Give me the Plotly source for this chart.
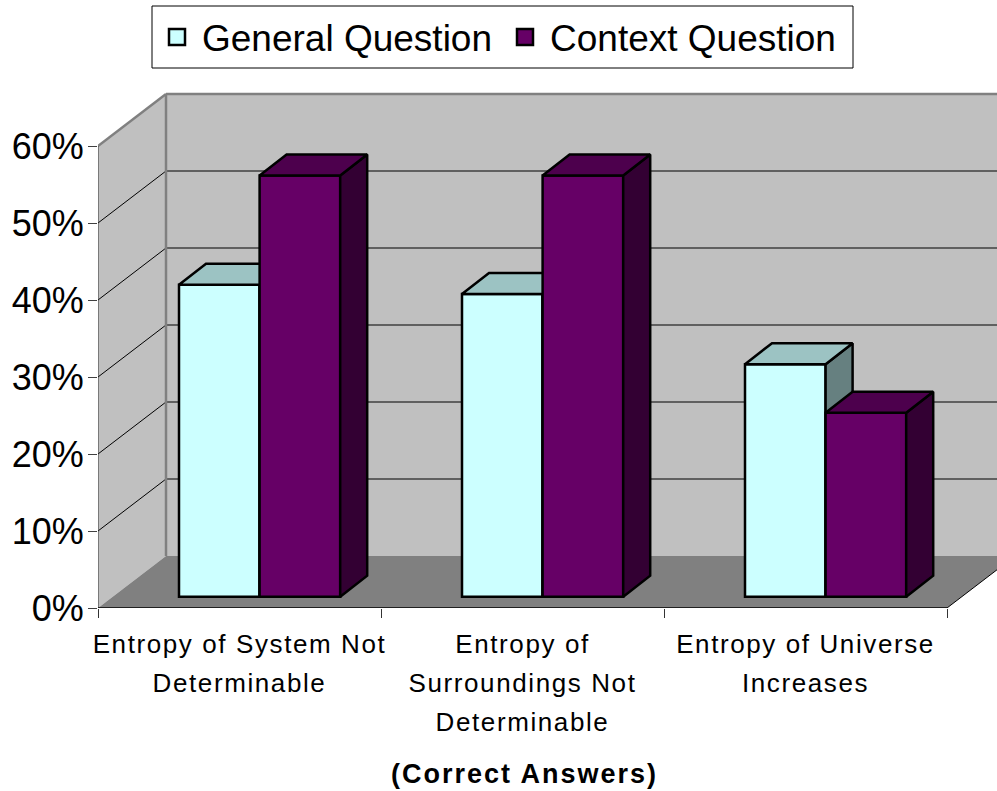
import plotly.graph_objects as go

# ---- data ----
categories = ["Entropy of System Not<br>Determinable",
              "Entropy of<br>Surroundings Not<br>Determinable",
              "Entropy of Universe<br>Increases"]
general_question = [40.5, 39.3, 30.2]
context_question = [54.7, 54.7, 23.9]
y_ticks = [0, 10, 20, 30, 40, 50, 60]
y_tick_labels = ["0%", "10%", "20%", "30%", "40%", "50%", "60%"]
axis_title = "(Correct Answers)"

# ---- drawing geometry (scale factors) ----
PLOT_L, PLOT_R, PLOT_T, PLOT_B = 98, 997, 90, 608
PX_PER_CAT, PX_PER_PCT = 283.0, 7.7
XMAX = (PLOT_R - PLOT_L) / PX_PER_CAT
YMAX = (PLOT_B - PLOT_T) / PX_PER_PCT
WALL_DX, WALL_DY = 68 / PX_PER_CAT, 52 / PX_PER_PCT
BAR_DX, BAR_DY = 27 / PX_PER_CAT, 21 / PX_PER_PCT
BAR_BASE = 11.3 / PX_PER_PCT
BAR_W = 80.6 / PX_PER_CAT
BAR_START = 81 / PX_PER_CAT
N = len(categories)
W_PLOT, H_PLOT = PLOT_R - PLOT_L, PLOT_B - PLOT_T


def poly(pts, **kw):
    path = "M" + "L".join(f"{x},{y}" for x, y in pts) + "Z"
    return dict(type="path", path=path, layer="below", **kw)


def seg(x0, y0, x1, y1, color="#000000", width=1):
    return dict(type="line", x0=x0, y0=y0, x1=x1, y1=y1, layer="below",
                line=dict(color=color, width=width))


shapes = [
    dict(type="rect", xref="paper", yref="paper", layer="below",
         x0=(152 - PLOT_L) / W_PLOT, x1=(853 - PLOT_L) / W_PLOT,
         y0=1 + (PLOT_T - 68) / H_PLOT, y1=1 + (PLOT_T - 6) / H_PLOT,
         fillcolor="white", line=dict(color="#000000", width=1)),
    poly([(0, 0), (WALL_DX, WALL_DY), (WALL_DX, 60 + WALL_DY), (0, 60)],
         fillcolor="#C0C0C0", line=dict(width=0)),
    poly([(WALL_DX, WALL_DY), (N + WALL_DX, WALL_DY), (N + WALL_DX, 60 + WALL_DY), (WALL_DX, 60 + WALL_DY)],
         fillcolor="#C0C0C0", line=dict(width=0)),
    poly([(0, 0), (N, 0), (N + WALL_DX, WALL_DY), (WALL_DX, WALL_DY)],
         fillcolor="#808080", line=dict(width=0)),
]
for t in y_ticks[1:-1]:
    shapes.append(seg(0, t, WALL_DX, t + WALL_DY, "#000000", 1))
    shapes.append(seg(WALL_DX, t + WALL_DY, N + WALL_DX, t + WALL_DY, "#000000", 1))
shapes += [
    seg(0, 60, WALL_DX, 60 + WALL_DY, "#808080", 2.5),
    seg(WALL_DX, 60 + WALL_DY, N + WALL_DX, 60 + WALL_DY, "#808080", 2.5),
    seg(WALL_DX, WALL_DY, WALL_DX, 60 + WALL_DY, "#808080", 2.5),
    seg(0, 0, 0, 60, "#333333", 1),
    seg(0, 0, N, 0, "#000000", 1.5),
    seg(N, 0, N + WALL_DX, WALL_DY, "#000000", 1),
]

fig = go.Figure()


def add_series(name, values, start, front, top, side, xa, ya):
    xs = [i + start + BAR_W / 2 for i in range(N)]
    fig.add_trace(go.Bar(x=xs, y=values, base=[BAR_BASE] * N, width=BAR_W, name=name,
                         marker=dict(color=front, line=dict(color="#000000", width=2.5)),
                         showlegend=False, xaxis=xa, yaxis=ya, hoverinfo="skip"))
    for i, v in enumerate(values):
        l, r = i + start, i + start + BAR_W
        h = BAR_BASE + v
        fx = [l, r, r + BAR_DX, l + BAR_DX, l]
        fy = [h, h, h + BAR_DY, h + BAR_DY, h]
        sx = [r, r + BAR_DX, r + BAR_DX, r, r]
        sy = [BAR_BASE, BAR_BASE + BAR_DY, h + BAR_DY, h, BAR_BASE]
        for px, py, c in ((sx, sy, side), (fx, fy, top)):
            fig.add_trace(go.Scatter(x=px, y=py, mode="lines", fill="toself", fillcolor=c,
                                     line=dict(color="#000000", width=2.5),
                                     showlegend=False, xaxis=xa, yaxis=ya, hoverinfo="skip"))


add_series("General Question", general_question, BAR_START, "#CCFFFF", "#9CC3C3", "#668080", "x", "y")
add_series("Context Question", context_question, BAR_START + BAR_W, "#660066", "#4D004D", "#330033", "x2", "y2")

for name, color in (("General Question", "#CCFFFF"), ("Context Question", "#660066")):
    fig.add_trace(go.Scatter(x=[None], y=[None], mode="markers", name=name,
                             marker=dict(symbol="square", size=16, color=color,
                                         line=dict(color="#000000", width=2.5))))

SPAN = '<span style="font-size:26px;letter-spacing:1.6px">'
fig.update_layout(
    width=997, height=791, paper_bgcolor="white", plot_bgcolor="rgba(0,0,0,0)",
    margin=dict(l=PLOT_L, r=997 - PLOT_R, t=PLOT_T, b=791 - PLOT_B),
    font=dict(family="Liberation Sans, Arial, sans-serif", color="#000000"),
    shapes=shapes, barmode="overlay",
    legend=dict(orientation="h", x=(152 - PLOT_L) / W_PLOT,
                y=1 + (PLOT_T - 6.5) / H_PLOT, xanchor="left", yanchor="top",
                bgcolor="rgba(0,0,0,0)", borderwidth=0,
                font=dict(size=37), itemwidth=40, entrywidth=293, entrywidthmode="pixels"),
    xaxis=dict(range=[0, XMAX], showgrid=False, zeroline=False, showline=False,
               tickmode="array", tickvals=[i + 0.5 for i in range(N)],
               ticktext=[SPAN + f'</span><br>{SPAN}'.join(c.split("<br>")) + "</span>"
                         for c in categories],
               ticks="", tickfont=dict(size=30), ticklabelstandoff=14,
               minor=dict(tickmode="array", tickvals=list(range(N + 1)), ticks="outside",
                          ticklen=9, tickcolor="#333333", showgrid=False)),
    yaxis=dict(range=[0, YMAX], showgrid=False, zeroline=False, showline=False,
               tickmode="array", tickvals=y_ticks, ticktext=y_tick_labels,
               ticks="outside", ticklen=9, tickcolor="#404040", tickfont=dict(size=36),
               ticklabelstandoff=-3),
    xaxis2=dict(range=[0, XMAX], overlaying="x", visible=False),
    yaxis2=dict(range=[0, YMAX], overlaying="y", visible=False),
    annotations=[dict(text=f'<b><span style="font-size:27px;letter-spacing:2px">{axis_title}</span></b>',
                      xref="paper", yref="paper", showarrow=False,
                      xanchor="center", yanchor="middle",
                      x=(524 - PLOT_L) / W_PLOT,
                      y=(PLOT_B - 774) / H_PLOT, font=dict(size=27))],
)

fig.write_html("out.html", post_script="document.body.style.margin='0';",
               config={"displayModeBar": False})
